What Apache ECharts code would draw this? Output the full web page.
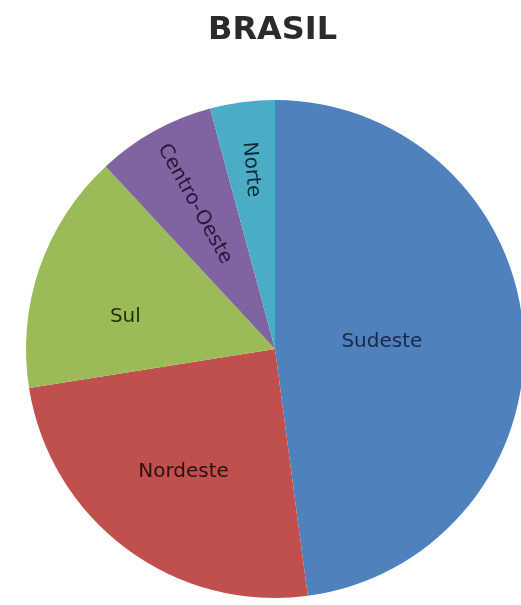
<!DOCTYPE html>
<html>
<head>
<meta charset="utf-8">
<title>Brasil</title>
<script src="https://cdn.jsdelivr.net/npm/echarts@6/dist/echarts.min.js"></script>
<style>
  html, body { margin: 0; padding: 0; background: #fff; }
  #chart { width: 521px; height: 605px; }
</style>
</head>
<body>
<div id="chart"></div>
<script>
// dados (%)
var regioes = ['Sudeste', 'Nordeste', 'Sul', 'Centro-Oeste', 'Norte'];
var valores = [47.9, 24.6, 15.6, 7.7, 4.2];

// estilo de cada fatia
var cores = ['#4F81BD', '#C0504D', '#9BBB59', '#8064A2', '#4BACC6'];
var corTexto = ['#18284a', '#2e1010', '#1f2e0c', '#24183a', '#0e2c36'];
var giro = [0, 0, 0, -61, -85];
var fatorRaio = [0.84, 1.2, 1.2, 1.3, 1.42]; // posicao do rotulo relativa ao meio do raio
var desvioAng = [0, 0, -7, 0, 0];           // graus, desvio do rotulo em torno do centro

var cx = 275, cy = 349;

var chart = echarts.init(document.getElementById('chart'));

var dados = regioes.map(function (nome, i) {
  return {
    name: nome,
    value: valores[i],
    itemStyle: { color: cores[i] },
    label: { color: corTexto[i], rotate: giro[i] }
  };
});

chart.setOption({
  backgroundColor: '#fff',
  animation: false,
  title: {
    text: 'BRASIL',
    left: 203,
    top: 10,
    textStyle: {
      fontFamily: 'DejaVu Sans',
      fontWeight: 'bold',
      fontSize: 32,
      color: '#2b2b2b'
    }
  },
  series: [{
    type: 'pie',
    center: [cx, cy],
    radius: 249,
    startAngle: 90,
    clockwise: true,
    data: dados,
    itemStyle: { borderWidth: 0 },
    label: {
      show: true,
      position: 'inside',
      formatter: '{b}',
      fontFamily: 'DejaVu Sans',
      fontSize: 20
    },
    labelLine: { show: false },
    labelLayout: function (p) {
      var r = p.labelRect;
      var i = p.dataIndex;
      var dx = (r.x + r.width / 2 - cx) * fatorRaio[i];
      var dy = (r.y + r.height / 2 - cy) * fatorRaio[i];
      var a = desvioAng[i] * Math.PI / 180;
      // giro no sentido horario da tela (a negativo = anti-horario)
      var nx = dx * Math.cos(a) - dy * Math.sin(a);
      var ny = dx * Math.sin(a) + dy * Math.cos(a);
      return { x: cx + nx, y: cy + ny };
    }
  }]
});
</script>
</body>
</html>
